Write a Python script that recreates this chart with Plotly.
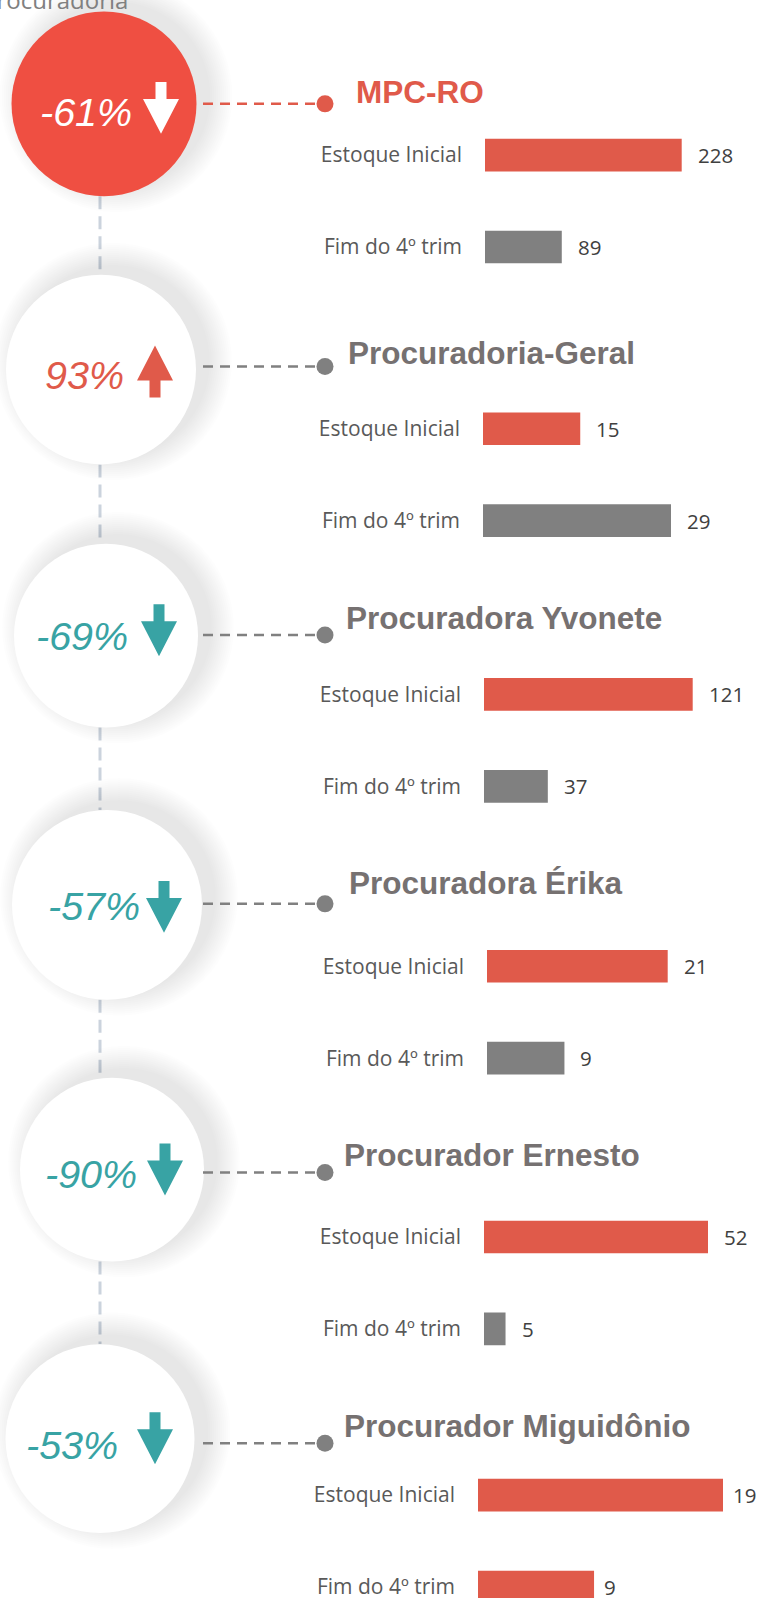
import plotly.graph_objects as go

# ---------------- data ----------------
sections = ["MPC-RO", "Procuradoria-Geral", "Procuradora Yvonete",
            "Procuradora Érika", "Procurador Ernesto", "Procurador Miguidônio"]
categories = ["Estoque Inicial", "Fim do 4º trim"]
estoque_inicial = [228, 15, 121, 21, 52, 19]
fim_4_trim = [89, 29, 37, 9, 5, 9]
pct_labels = ["-61%", "93%", "-69%", "-57%", "-90%", "-53%"]

# ---------------- layout / style (pixel positions) ----------------
W, H = 760, 1600
RED = "#E05A4A"
CIRCLE_RED = "#EF4F42"
TEAL = "#38A3A4"
GRAY = "#808080"
TITLE_GRAY = "#767171"
LABEL_GRAY = "#595959"

circle_cx = [104, 101, 106, 107, 112, 100]
circle_cy = [104, 370, 636.5, 906, 1171, 1440.5]
circle_r = [92.5, 95, 92, 95, 92, 94.5]
link_y = [104, 367, 635.7, 905, 1174, 1445]
title_x = [354, 346, 344, 347, 342, 342]
title_y = [92.5, 353, 619, 884, 1156, 1428]
pct_right = [134, 126, 130, 142, 139, 120]
pct_y = [112, 375, 637, 907, 1175, 1447]
arrow_x = [143, 137, 141, 146, 147, 137]
arrow_y = [82, 346, 605, 882, 1145, 1414]
bar_x0 = [485, 483, 484, 487, 484, 478]
bar_top_center = [155.3, 429.3, 695.3, 967.5, 1238.5, 1497]
max_bar_px = [196.7, 188, 208.7, 180.7, 224, 245]
label_shift = [14, 14, 14, 14, 14, 8]
fim_colors = [GRAY, GRAY, GRAY, GRAY, GRAY, RED]
BAR_GAP = 92      # px between bar centres
BAR_AXIS_LEN = 260

fig = go.Figure()
shapes = []
annotations = []

# vertical dashed connectors between circles
for i in range(len(sections) - 1):
    shapes.append(dict(type="line", xref="x", yref="y",
                       x0=100, x1=100,
                       y0=circle_cy[i] + circle_r[i], y1=circle_cy[i + 1] - circle_r[i + 1],
                       line=dict(color="#CBD3DD", width=3, dash="13px,7px")))

# circles with soft shadow (offset up/right)
for i in range(len(sections)):
    cx, cy, r = circle_cx[i], circle_cy[i], circle_r[i]
    for k in range(1, 13):
        rr = r + 2 * k
        shapes.append(dict(type="circle", xref="x", yref="y",
                           x0=cx + 12 - rr, x1=cx + 12 + rr, y0=cy - 8 - rr, y1=cy - 8 + rr,
                           fillcolor="rgba(0,0,0,0.009)", line=dict(width=0)))
    fill = CIRCLE_RED if i == 0 else "white"
    shapes.append(dict(type="circle", xref="x", yref="y",
                       x0=cx - r, x1=cx + r, y0=cy - r, y1=cy + r,
                       fillcolor=fill, line=dict(width=0)))

# horizontal dashed connectors
for i in range(len(sections)):
    col = RED if i == 0 else GRAY
    shapes.append(dict(type="line", xref="x", yref="y",
                       x0=203, x1=317, y0=link_y[i], y1=link_y[i],
                       line=dict(color=col, width=2.5, dash="10px,7px")))

# arrows
AW, AS, AH, SH = 36, 11, 52, 17
for i in range(len(sections)):
    x, y = arrow_x[i], arrow_y[i]
    up = not pct_labels[i].startswith("-")
    if i == 0:
        col = "white"
    elif up:
        col = RED
    else:
        col = TEAL
    if not up:
        pts = [(x + (AW - AS) / 2, y), (x + (AW + AS) / 2, y), (x + (AW + AS) / 2, y + SH),
               (x + AW, y + SH), (x + AW / 2, y + AH), (x, y + SH), (x + (AW - AS) / 2, y + SH)]
    else:
        hh = AH - SH
        pts = [(x + AW / 2, y), (x + AW, y + hh), (x + (AW + AS) / 2, y + hh),
               (x + (AW + AS) / 2, y + AH), (x + (AW - AS) / 2, y + AH),
               (x + (AW - AS) / 2, y + hh), (x, y + hh)]
    path = "M " + " L ".join(f"{px},{py}" for px, py in pts) + " Z"
    shapes.append(dict(type="path", xref="x", yref="y", path=path,
                       fillcolor=col, line=dict(width=0)))

# percentage texts
for i in range(len(sections)):
    up = not pct_labels[i].startswith("-")
    col = "white" if i == 0 else (RED if up else TEAL)
    annotations.append(dict(xref="x", yref="y", x=pct_right[i], y=pct_y[i],
                            text=f"<i>{pct_labels[i]}</i>", showarrow=False,
                            xanchor="right", yanchor="middle",
                            font=dict(family="Liberation Sans, Arial", size=39.5, color=col)))

# section titles
for i in range(len(sections)):
    col = RED if i == 0 else TITLE_GRAY
    annotations.append(dict(xref="x", yref="y", x=title_x[i], y=title_y[i],
                            text=f"<b>{sections[i]}</b>", showarrow=False,
                            xanchor="left", yanchor="middle",
                            font=dict(family="Liberation Sans, Arial", size=31.5, color=col)))

# partially visible heading at top (cut by the top edge)
annotations.append(dict(xref="paper", yref="paper", x=0, y=1, xshift=-20, yshift=-18,
                        text="Procuradoria",
                        showarrow=False, xanchor="left", yanchor="bottom",
                        font=dict(family="Open Sans", size=24, color=GRAY)))

# dots on the connectors
fig.add_trace(go.Scatter(x=[325] * len(sections), y=link_y, mode="markers",
                         marker=dict(size=17, color=[RED] + [GRAY] * 5),
                         hoverinfo="skip", showlegend=False, xaxis="x", yaxis="y"))

layout_axes = {}
for i in range(len(sections)):
    n = i + 2
    vals = [estoque_inicial[i], fim_4_trim[i]]
    fig.add_trace(go.Bar(y=categories, x=vals, orientation="h",
                         marker=dict(color=[RED, fim_colors[i]], line=dict(width=0)),
                         width=0.355, showlegend=False, hoverinfo="x+y",
                         xaxis=f"x{n}", yaxis=f"y{n}"))
    top = bar_top_center[i] - BAR_GAP / 2
    bot = min(H, bar_top_center[i] + BAR_GAP * 1.5)
    xmax = max(vals) * BAR_AXIS_LEN / max_bar_px[i]
    layout_axes[f"xaxis{n}"] = dict(domain=[bar_x0[i] / W, (bar_x0[i] + BAR_AXIS_LEN) / W],
                                    range=[0, xmax], visible=False, anchor=f"y{n}",
                                    fixedrange=True)
    layout_axes[f"yaxis{n}"] = dict(domain=[max(0, 1 - bot / H), 1 - top / H],
                                    range=[-0.5 + (bot - top) / BAR_GAP, -0.5], type="category",
                                    categoryorder="array", categoryarray=categories,
                                    anchor=f"x{n}", showgrid=False, zeroline=False,
                                    showline=False, ticks="", ticklabelstandoff=22,
                                    tickfont=dict(family="Open Sans", size=21, color=LABEL_GRAY),
                                    fixedrange=True)
    for c, v in zip(categories, vals):
        annotations.append(dict(xref=f"x{n}", yref=f"y{n}", x=v, y=c, text=str(v),
                                showarrow=False, xanchor="left", yanchor="middle",
                                xshift=label_shift[i],
                                font=dict(family="Open Sans", size=20.5, color="#404040")))

fig.update_layout(
    width=W, height=H, autosize=False,
    margin=dict(l=0, r=0, t=0, b=0),
    paper_bgcolor="white", plot_bgcolor="rgba(0,0,0,0)",
    showlegend=False,
    xaxis=dict(domain=[0, 1], range=[0, W], visible=False, fixedrange=True),
    yaxis=dict(domain=[0, 1], range=[H, 0], visible=False, fixedrange=True),
    shapes=shapes, annotations=annotations,
    **layout_axes,
)

fig.write_html("out.html", config={"displayModeBar": False},
               post_script="document.body.style.margin='0';")
